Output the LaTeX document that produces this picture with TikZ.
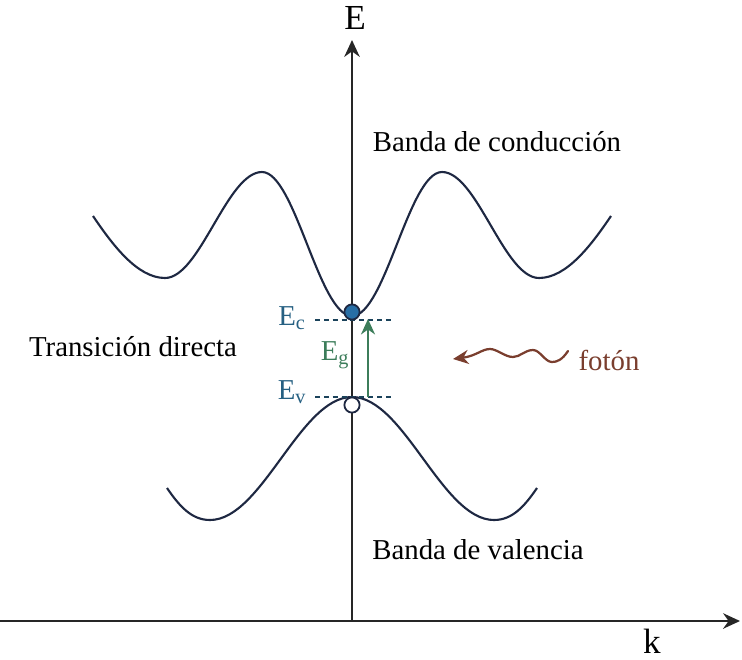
\documentclass[tikz,border=0pt]{standalone}
\usepackage{fontspec}
\setmainfont{Liberation Serif}
\usetikzlibrary{arrows.meta}
\definecolor{BandNavy}{RGB}{30,40,66}
\definecolor{LevelBlue}{RGB}{38,96,130}
\definecolor{DotBlue}{RGB}{40,110,165}
\definecolor{GapGreen}{RGB}{60,125,90}
\definecolor{PhotonBrown}{RGB}{122,62,46}

\begin{document}
\begin{tikzpicture}[x=0.025cm, y=-0.025cm,
    axis/.style={draw=black!85,line width=1.6pt,-{Stealth[length=12pt,width=11pt]}},
    band/.style={draw=BandNavy,line width=1.5pt},
    lvl/.style={draw=LevelBlue!70!black,line width=1.2pt,dash pattern=on 3.5pt off 2.8pt},
    dot/.style={circle,draw=BandNavy,line width=1.3pt,minimum size=0.38cm,inner sep=0pt},
    lbl/.style={font=\fontsize{20.5}{23}\selectfont},
    ax/.style={font=\fontsize{25}{27}\selectfont}
  ]
    \useasboundingbox (0,0) rectangle (742,659);
    % axes
    \coordinate (o) at (352,621);
    \coordinate (kL) at (0,621);
    \coordinate (kR) at (740,621);
    \coordinate (eT) at (352,40);
    \draw[axis] (kL) -- (kR);
    \draw[axis] (o) -- (eT);
    \node[ax] (E) at (355,18) {E};
    \node[ax] (k) at (652,641) {k};
    % bands
    \draw[band] (93,216) .. controls (112,244) and (137,278) .. (165,278)
      .. controls (200,278) and (227,172) .. (262,172)
      .. controls (295,172) and (319,316) .. (352,316)
      .. controls (385,316) and (409,172) .. (442,172)
      .. controls (477,172) and (504,278) .. (539,278)
      .. controls (567,278) and (592,244) .. (611,216);
    \draw[band] (167,488) .. controls (180,507) and (192,520) .. (210,520)
      .. controls (262,520) and (300,397) .. (352,397)
      .. controls (404,397) and (442,520) .. (494,520)
      .. controls (512,520) and (524,507) .. (537,488);
    % levels
    \coordinate (ecL) at (315,320);
    \coordinate (ecR) at (393,320);
    \coordinate (evL) at (315,397);
    \coordinate (evR) at (393,397);
    \draw[lvl] (ecL) -- (ecR);
    \draw[lvl] (evL) -- (evR);
    \coordinate (egB) at (368,397);
    \coordinate (egT) at (368,319);
    \draw[draw=GapGreen,line width=1.3pt,-{Stealth[length=11pt,width=10pt]}] (egB) -- (egT);
    \node[dot,fill=DotBlue] (elec) at (352,312) {};
    \node[dot,fill=white] (hole) at (352,405) {};
    \node[lbl,text=LevelBlue] (Ec) at (292,318) {E\textsubscript{c}};
    \node[lbl,text=LevelBlue] (Ev) at (292,392) {E\textsubscript{v}};
    \node[lbl,text=GapGreen] (Eg) at (335,355) {E\textsubscript{g}};
    % photon
    \coordinate (phR) at (568,351);
    \coordinate (phL) at (453,359);
    \draw[draw=PhotonBrown,line width=1.6pt,line cap=round,-{Stealth[length=11pt,width=10pt]}]
      (phR) .. controls (562,360) and (557,362) .. (552,362)
      .. controls (545,362) and (540,350) .. (533,350)
      .. controls (525,350) and (520,357) .. (513,357)
      .. controls (505,357) and (497,349) .. (490,349)
      .. controls (482,349) and (476,356) .. (phL);
    \node[lbl,text=PhotonBrown] (foton) at (609,360) {fotón};
    % texts
    \node[lbl] (trans) at (133,347) {Transición directa};
    \node[lbl] (cond) at (497,142) {Banda de conducción};
    \node[lbl] (val) at (478,550) {Banda de valencia};
\end{tikzpicture}
\end{document}
